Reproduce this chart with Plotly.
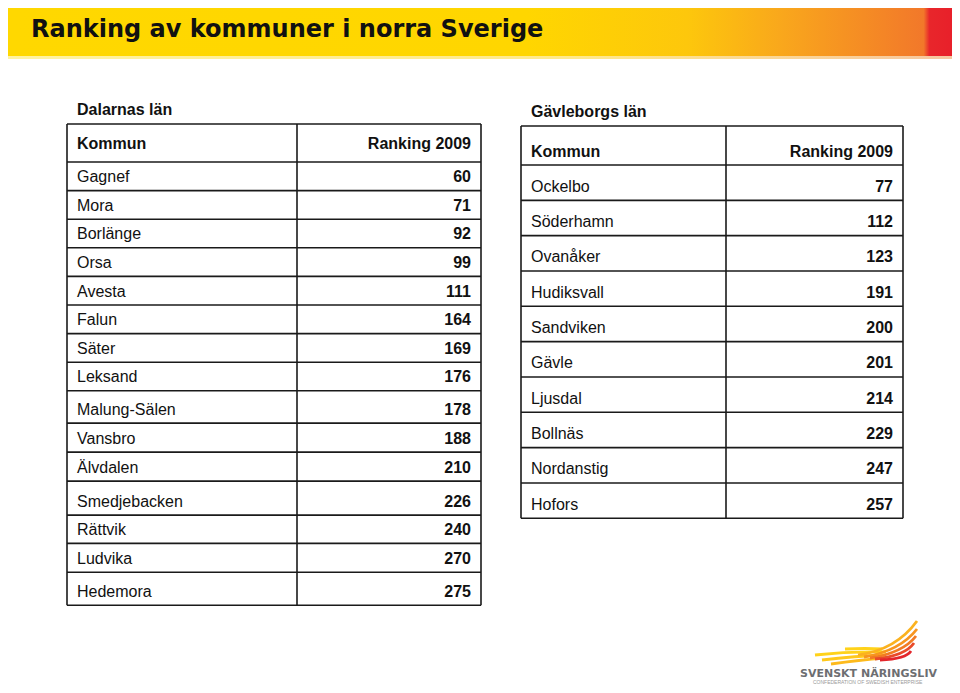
import plotly.graph_objects as go

# Table data
title = 'Ranking av kommuner i norra Sverige'
col_headers = ['Kommun', 'Ranking 2009']

dalarna_name = 'Dalarnas län'
dalarna_kommuner = ['Gagnef', 'Mora', 'Borlänge', 'Orsa', 'Avesta', 'Falun', 'Säter', 'Leksand',
                    'Malung-Sälen', 'Vansbro', 'Älvdalen', 'Smedjebacken', 'Rättvik', 'Ludvika', 'Hedemora']
dalarna_ranking = [60, 71, 92, 99, 111, 164, 169, 176, 178, 188, 210, 226, 240, 270, 275]

gavle_name = 'Gävleborgs län'
gavle_kommuner = ['Ockelbo', 'Söderhamn', 'Ovanåker', 'Hudiksvall', 'Sandviken', 'Gävle',
                  'Ljusdal', 'Bollnäs', 'Nordanstig', 'Hofors']
gavle_ranking = [77, 112, 123, 191, 200, 201, 214, 229, 247, 257]

# Layout (axis units = screen pixels; page body has an 8px margin)
PAD = 8
W, H = 960 - 2 * PAD, 693 - PAD
FONT = 'Liberation Sans, Arial, sans-serif'
LINE = '#1a1a1a'

left_tab = dict(x0=67, xd=297, x1=481, top=124, head=38, head_off=18.5,
                rows=[28.6] * 8 + [32.3, 29, 29, 34, 28.3, 28.8, 33], label_y=111)
right_tab = dict(x0=521, xd=726, x1=903, top=126, head=39, head_off=13.5,
                 rows=[35.33] * 10, label_y=112.5)

fig = go.Figure()
shapes = []

# title bar with horizontal gradient
fig.add_trace(go.Scatter(
    x=[8, 952, 952, 8, 8], y=[2, 2, 56, 56, 2], mode='lines', fill='toself',
    line=dict(width=0), hoverinfo='skip', showlegend=False,
    fillgradient=dict(type='horizontal', colorscale=[
        [0.0, '#FFD800'], [0.55, '#FFD600'], [0.72, '#FDC70C'], [0.82, '#F9A71C'],
        [0.97, '#F2782A'], [0.976, '#E8262B'], [1.0, '#E8202A']])
))
fig.add_trace(go.Scatter(
    x=[8, 952, 952, 8, 8], y=[56, 56, 59, 59, 56], mode='lines', fill='toself',
    line=dict(width=0), hoverinfo='skip', showlegend=False,
    fillgradient=dict(type='horizontal', colorscale=[
        [0.0, '#FFF3A0'], [0.6, '#FFE98A'], [1.0, '#F7C6A0']])
))
fig.add_annotation(x=29, y=28.5, text='<b>' + title + '</b>', showarrow=False,
                   xanchor='left', yanchor='middle',
                   font=dict(family='DejaVu Sans', size=24, color='#111111'))


def draw_table(tab, name, kommuner, ranking):
    bounds = [tab['top'], tab['top'] + tab['head']]
    for h in tab['rows']:
        bounds.append(bounds[-1] + h)
    # horizontal lines
    for b in bounds:
        shapes.append(dict(type='line', xref='x', yref='y', x0=tab['x0'], x1=tab['x1'],
                           y0=b, y1=b, line=dict(color=LINE, width=1.6)))
    # vertical lines
    for xv in (tab['x0'], tab['xd'], tab['x1']):
        shapes.append(dict(type='line', xref='x', yref='y', x0=xv, x1=xv,
                           y0=bounds[0], y1=bounds[-1], line=dict(color=LINE, width=1.6)))
    body_y = [b - 12.5 for b in bounds[2:]]
    head_y = bounds[1] - tab['head_off'] + 1
    xl, xr = tab['x0'] + 10, tab['x1'] - 10
    tf = dict(family=FONT, size=16, color='#111111')
    # section label
    fig.add_trace(go.Scatter(x=[xl], y=[tab['label_y']], mode='text',
                             text=['<b>' + name + '</b>'], textposition='middle right',
                             textfont=tf, hoverinfo='skip', showlegend=False))
    # headers
    fig.add_trace(go.Scatter(x=[xl], y=[head_y], mode='text',
                             text=['<b>' + col_headers[0] + '</b>'], textposition='middle right',
                             textfont=tf, hoverinfo='skip', showlegend=False))
    fig.add_trace(go.Scatter(x=[xr], y=[head_y], mode='text',
                             text=['<b>' + col_headers[1] + '</b>'], textposition='middle left',
                             textfont=tf, hoverinfo='skip', showlegend=False))
    # body
    fig.add_trace(go.Scatter(x=[xl] * len(kommuner), y=body_y, mode='text',
                             text=kommuner, textposition='middle right',
                             textfont=tf, hoverinfo='skip', showlegend=False))
    fig.add_trace(go.Scatter(x=[xr] * len(ranking), y=body_y, mode='text',
                             text=['<b>%d</b>' % r for r in ranking], textposition='middle left',
                             textfont=tf, hoverinfo='skip', showlegend=False))


draw_table(left_tab, dalarna_name, dalarna_kommuner, dalarna_ranking)
draw_table(right_tab, gavle_name, gavle_kommuner, gavle_ranking)

# logo feathers
feathers = [
    ('M 815,655 Q 850,651 886,652', '#FFD21A'),
    ('M 822,660 Q 855,656 886,655', '#FFC81A'),
    ('M 831,664 Q 860,660 884,658', '#FDBA1C'),
    ('M 845,649 Q 866,648 882,649', '#FFD21A'),
    ('M 858,655 Q 896,650 917,621', '#FBB21F'),
    ('M 864,657 Q 900,651 917,629', '#F7951F'),
    ('M 870,658 Q 903,653 916,636', '#F27B23'),
    ('M 875,659 Q 905,656 914,643', '#E94B2A'),
    ('M 880,660 Q 906,659 911,651', '#E3262B'),
]
for p, c in feathers:
    shapes.append(dict(type='path', xref='x', yref='y', path=p,
                       line=dict(color=c, width=2.8)))

fig.add_annotation(x=868, y=673, text='<b>SVENSKT NÄRINGSLIV</b>', showarrow=False,
                   xanchor='center', yanchor='middle',
                   font=dict(family='DejaVu Sans', size=11, color='#6d6e71'))
fig.add_annotation(x=868, y=682, text='CONFEDERATION OF SWEDISH ENTERPRISE', showarrow=False,
                   xanchor='center', yanchor='middle',
                   font=dict(family=FONT, size=5, color='#9a9a9a'))

fig.update_layout(
    width=W, height=H,
    margin=dict(l=0, r=0, t=0, b=0),
    paper_bgcolor='white', plot_bgcolor='white',
    shapes=shapes,
    xaxis=dict(range=[PAD, PAD + W], visible=False, fixedrange=True),
    yaxis=dict(range=[PAD + H, PAD], visible=False, fixedrange=True),
    showlegend=False
)

fig.write_html('out.html')
